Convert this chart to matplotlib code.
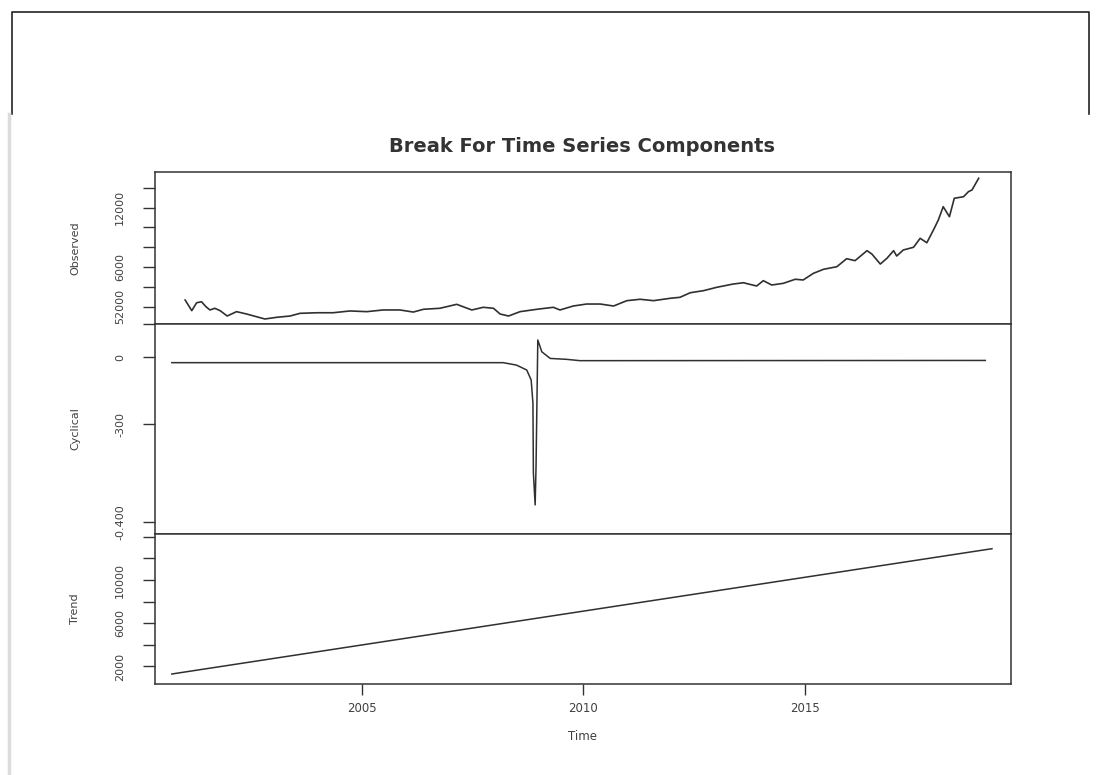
import matplotlib.pyplot as plt
from matplotlib.lines import Line2D

# observed index level
obs_time = [2001.01, 2001.16, 2001.27, 2001.38, 2001.48, 2001.57, 2001.68, 2001.80, 2001.96,
            2002.17, 2002.40, 2002.62, 2002.81, 2003.08, 2003.38, 2003.60, 2003.98,
            2004.35, 2004.73, 2005.11, 2005.48, 2005.86, 2006.16, 2006.39, 2006.76,
            2007.14, 2007.48, 2007.74, 2007.97, 2008.12, 2008.31, 2008.57, 2008.95,
            2009.32, 2009.47, 2009.77, 2010.07, 2010.38, 2010.68, 2010.98, 2011.28,
            2011.58, 2011.96, 2012.18, 2012.41, 2012.71, 2013.01, 2013.38, 2013.61,
            2013.91, 2014.06, 2014.25, 2014.51, 2014.78, 2014.96, 2015.19, 2015.42,
            2015.72, 2015.94, 2016.13, 2016.40, 2016.51, 2016.70, 2016.85, 2017.00,
            2017.07, 2017.22, 2017.45, 2017.60, 2017.75, 2017.90, 2018.01, 2018.12,
            2018.26, 2018.37, 2018.58, 2018.69, 2018.77, 2018.92]
obs_value = [2680, 1600, 2400, 2500, 2000, 1670, 1840, 1600, 1060,
             1500, 1260, 990, 760, 930, 1060, 1330, 1390,
             1390, 1570, 1500, 1670, 1670, 1460, 1740, 1840,
             2240, 1670, 1940, 1840, 1260, 1060, 1500, 1740,
             1940, 1670, 2070, 2270, 2270, 2070, 2610, 2750,
             2610, 2850, 2950, 3410, 3620, 3960, 4290, 4420,
             4090, 4630, 4190, 4360, 4770, 4700, 5370, 5780,
             6040, 6850, 6650, 7660, 7320, 6310, 6890, 7660,
             7120, 7730, 8000, 8910, 8460, 9750, 10760, 12100,
             11090, 12950, 13110, 13620, 13790, 14970]

# cyclical component
cyc_time = [2000.71, 2008.19, 2008.49, 2008.72, 2008.82, 2008.86, 2008.87, 2008.91,
            2008.93, 2008.97, 2009.06, 2009.25, 2009.62, 2009.92, 2019.07]
cyc_value = [-24, -24, -35, -57, -102, -206, -520, -664,
             -492, 78, 25, -5, -9, -15, -14]

# linear trend
trend_time = [2000.71, 2019.22]
trend_value = [1300, 12900]

year_ticks = [2005, 2010, 2015]
obs_ticks = [2000, 4000, 6000, 8000, 10000, 12000, 14000]
obs_labels = ['52000', '', '6000', '', '', '12000', '']
cyc_ticks = [150, 0, -300, -740]
cyc_labels = ['', '0', '-300', '-0.400']
trend_ticks = [2000, 4000, 6000, 8000, 10000, 12000, 14000]
trend_labels = ['2000', '', '6000', '', '10000', '', '']

W, H = 1101, 775
ink = '#303030'
txt = '#404040'


def box(left, top, right, bottom):
    return [left / W, 1 - bottom / H, (right - left) / W, (bottom - top) / H]


fig = plt.figure(figsize=(W / 100, H / 100), dpi=100)

# frame of the blank area above the plot
fig.add_artist(Line2D([12 / W, 12 / W, 1089 / W, 1089 / W],
                      [1 - 114 / H, 1 - 12 / H, 1 - 12 / H, 1 - 114 / H],
                      transform=fig.transFigure, color='#222222', lw=1.2))
fig.add_artist(Line2D([9 / W, 9 / W], [1 - 114 / H, 0],
                      transform=fig.transFigure, color='#dcdcdc', lw=2.5))

ax1 = fig.add_axes(box(155, 172, 1011, 324))
ax2 = fig.add_axes(box(155, 324, 1011, 534), sharex=ax1)
ax3 = fig.add_axes(box(155, 534, 1011, 684), sharex=ax1)

ax1.plot(obs_time, obs_value, color=ink, lw=1.2)
ax2.plot(cyc_time, cyc_value, color=ink, lw=1.1)
ax3.plot(trend_time, trend_value, color=ink, lw=1.1)

ax1.set_ylim(253, 15605)
ax2.set_ylim(-795, 150)
ax3.set_ylim(374, 14262)
ax1.set_xlim(2000.33, 2019.65)

panels = [(ax1, obs_ticks, obs_labels, 'Observed'),
          (ax2, cyc_ticks, cyc_labels, 'Cyclical'),
          (ax3, trend_ticks, trend_labels, 'Trend')]
for ax, ticks, labels, name in panels:
    for s in ax.spines.values():
        s.set_color('#333333')
        s.set_linewidth(1.1)
    ax.set_yticks(ticks)
    ax.set_yticklabels(labels, rotation=90, va='center')
    ax.tick_params(axis='y', direction='out', length=8.5, width=1.0,
                   color='#333333', labelsize=8, labelcolor=txt, pad=13)
    mid = (ax.get_position().y0 + ax.get_position().y1) / 2
    fig.text(75 / W, mid, name, rotation=90, ha='center', va='center',
             fontsize=8, color=txt)

ax1.tick_params(axis='x', bottom=False, labelbottom=False)
ax2.tick_params(axis='x', bottom=False, labelbottom=False)
ax3.set_xticks(year_ticks)
ax3.set_xticklabels([str(y) for y in year_ticks])
ax3.tick_params(axis='x', direction='out', length=8, width=1.0,
                color='#333333', labelsize=8.5, labelcolor=txt, pad=5)

fig.text(582 / W, 1 - 146 / H, 'Break For Time Series Components',
         ha='center', va='center', fontsize=14, fontweight='bold', color='#333333')
fig.text(583 / W, 1 - 737 / H, 'Time', ha='center', va='center',
         fontsize=8.5, color=txt)

fig.savefig('out.png', dpi=100, facecolor='white')
